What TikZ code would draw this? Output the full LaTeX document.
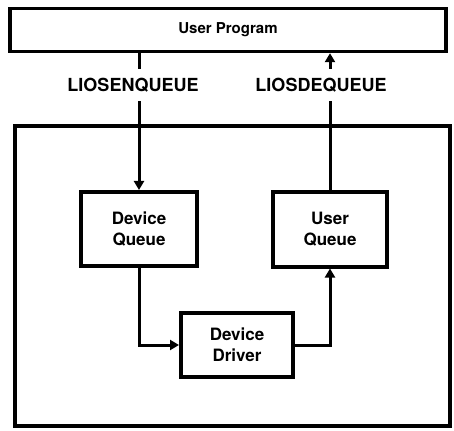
\documentclass[tikz,border=0pt]{standalone}
\usepackage{fontspec}
\setmainfont{TeX Gyre Heros}
\usetikzlibrary{arrows.meta}

\tikzset{
  box/.style={draw, line width=4pt, fill=white, inner sep=0pt, align=center,
              font=\fontsize{17}{21}\selectfont\bfseries},
  frame/.style={draw, line width=3.4pt},
  conn/.style={line width=3pt},
  tip/.style={-{Triangle[length=9pt,width=10pt]}},
  lbl/.style={fill=white, inner xsep=2pt, inner ysep=9pt,
              font=\fontsize{18}{20}\selectfont\bfseries}
}

\begin{document}
\begin{tikzpicture}[x=1pt,y=-1pt]
  \useasboundingbox (0,0) rectangle (454,430);

  % enclosing frame of the driver subsystem
  \draw[frame] (15,126) rectangle (450,426);

  % program box across the top
  \node[box, line width=3.4pt, minimum width=436pt, minimum height=43pt,
        font=\fontsize{15}{17}\selectfont\bfseries] (up) at (228,30) {User Program};

  % queue and driver boxes
  \node[box, minimum width=116pt, minimum height=74pt] (dq) at (139,229) {Device\\Queue};
  \node[box, minimum width=114pt, minimum height=75pt] (uq) at (330,229) {User\\Queue};
  \node[box, minimum width=112pt, minimum height=64pt] (dd) at (237,345) {Device\\Driver};

  % links between the boxes
  \draw[conn, tip] (dq.north |- up.south) -- (dq.north);
  \draw[conn, tip] (uq.north) -- (uq.north |- up.south);
  \draw[conn, tip] (dq.south) |- (dd.west);
  \draw[conn, tip] (dd.east) -| (uq.south);

  % call labels set over the vertical links
  \node[lbl] (lenq) at (133,85) {LIOSENQUEUE};
  \node[lbl] (ldeq) at (321,85) {LIOSDEQUEUE};
\end{tikzpicture}
\end{document}
